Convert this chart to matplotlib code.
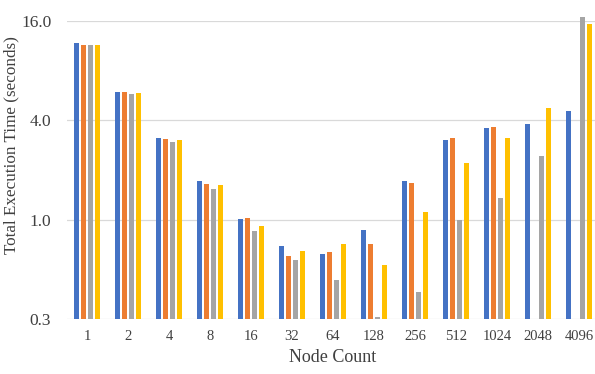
import numpy as np
import matplotlib.pyplot as plt
from matplotlib.ticker import FixedLocator, FixedFormatter

plt.rcParams['font.family'] = ['Liberation Serif', 'DejaVu Serif']

nodes = ['1', '2', '4', '8', '16', '32', '64', '128', '256', '512', '1024', '2048', '4096']
s_blue = [11.7, 5.97, 3.11, 1.71, 1.01, 0.69, 0.62, 0.87, 1.71, 3.03, 3.60, 3.82, 4.56]
s_orange = [11.5, 5.97, 3.07, 1.65, 1.03, 0.605, 0.64, 0.71, 1.67, 3.11, 3.63, np.nan, np.nan]
s_gray = [11.5, 5.78, 2.95, 1.53, 0.85, 0.57, 0.43, 0.256, 0.365, 1.0, 1.35, 2.42, 17.0]
s_yellow = [11.5, 5.87, 3.03, 1.63, 0.92, 0.65, 0.71, 0.53, 1.11, 2.2, 3.11, 4.74, 15.4]

series = [s_blue, s_orange, s_gray, s_yellow]
colors = ['#4472C4', '#ED7D31', '#A5A5A5', '#FFC000']
y_min = 0.25
txt = '#404040'

fig = plt.figure(figsize=(5.95, 3.74), dpi=100)
ax = fig.add_axes([66.5 / 595, 1 - 319 / 374, 1 - 66.5 / 595, (319 - 21) / 374])

x = np.arange(len(nodes))
step = 0.168
w = 0.135
for i, (vals, c) in enumerate(zip(series, colors)):
    vals = np.array(vals)
    # bars start at the axis floor so the tallest one may run past the top
    ax.bar(x + (i - 1.5) * step, vals - y_min, bottom=y_min, width=w,
           color=c, zorder=3, clip_on=False)

ax.set_yscale('log', base=2)
ax.set_ylim(y_min, 16)
ax.yaxis.set_major_locator(FixedLocator([0.25, 1, 4, 16]))
ax.yaxis.set_major_formatter(FixedFormatter(['0.3', '1.0', '4.0', '16.0']))
ax.yaxis.set_minor_locator(FixedLocator([]))
ax.set_xlim(-0.5, (595 - 87) / 41)
ax.set_xticks(x)
ax.set_xticklabels(nodes, fontsize=10.5, color=txt)
ax.tick_params(axis='y', labelsize=12.5, labelcolor=txt, length=0, pad=11)
ax.tick_params(axis='x', length=0, pad=8)
ax.grid(axis='y', color='#D9D9D9', linewidth=0.9, zorder=0)
for sp in ax.spines.values():
    sp.set_visible(False)

ax.set_ylabel('Total Execution Time (seconds)', fontsize=12.3, color=txt)
ax.set_xlabel('Node Count', fontsize=13, color=txt)
ax.yaxis.set_label_coords(-0.09, 0.585)
ax.xaxis.set_label_coords(0.503, -0.10)

fig.savefig('out.png', dpi=100)
